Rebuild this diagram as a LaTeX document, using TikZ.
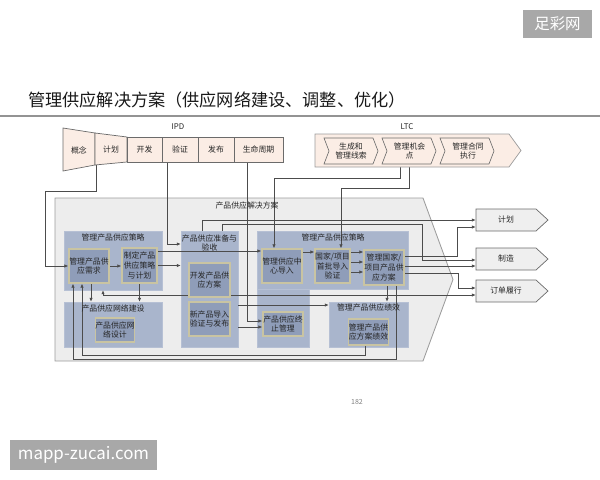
\documentclass[tikz,border=0pt]{standalone}
\usepackage{fontspec}
\setmainfont{Noto Sans CJK SC}
\usetikzlibrary{arrows.meta,calc,positioning}
\newlength\pxu
\setlength\pxu{0.025cm}
\definecolor{peach}{HTML}{FBEDE5}
\definecolor{bline}{HTML}{6B6B6B}
\definecolor{cbg}{HTML}{EDEDED}
\definecolor{cline}{HTML}{9C9C9C}
\definecolor{grp}{HTML}{A9B5CC}
\definecolor{inbox}{HTML}{8F9DB9}
\definecolor{inedge}{HTML}{C9C4A2}
\definecolor{wm}{HTML}{A8A8A8}
\definecolor{outfill}{HTML}{EFEFEF}
\pgfdeclarelayer{grplayer}
\pgfdeclarelayer{wire}
\pgfsetlayers{grplayer,wire,main}
\tikzset{
  txt/.style={font=\fontsize{5.6}{6.8}\selectfont, align=center, inner sep=0pt, text=black!85},
  ipd/.style={txt, draw=bline, fill=peach, line width=0.5pt, minimum height=25\pxu},
  grpbox/.style={fill=grp, draw=grp!85!white, inner sep=0pt},
  sub/.style={txt, fill=inbox, draw=inedge, line width=0.9pt},
  conn/.style={draw=black!70, line width=0.45pt, ->},
}
\begin{document}
\begin{tikzpicture}[x=0.025cm, y=-0.025cm, >={Latex[length=2.8pt,width=2.4pt]}]
\useasboundingbox (0,0) rectangle (600,480);
% 水印与标题
\fill[wm] (523,10) rectangle (592,38);
\node[font=\fontsize{11}{13}\selectfont, text=white, inner sep=0pt] (wmtop) at (557.5,24) {足彩网};
\fill[wm] (10,440) rectangle (157,470);
\node[font=\fontsize{12}{14}\selectfont, text=white, inner sep=0pt] (wmbot) at (83.5,455) {mapp-zucai.com};
\node[font=\fontsize{12.2}{14}\selectfont, anchor=west, inner sep=0pt, text=black!90] (title) at (28,100) {管理供应解决方案（供应网络建设、调整、优化）};
\draw[line width=1pt, gray!85] (0,116) -- (600,116);
\node[font=\fontsize{5}{6}\selectfont, text=gray] (pageno) at (357,402) {182};

% IPD
\node[txt] (ipdlabel) at (178,127) {IPD};
\filldraw[fill=peach, draw=bline, line width=0.5pt] (63,128) -- (95,133) -- (95,165) -- (63,171) -- cycle;
\filldraw[fill=peach, draw=bline, line width=0.5pt] (95,133) -- (127,137) -- (127,162) -- (95,165) -- cycle;
\node[txt] (gn) at (79,150) {概念};
\node[txt, minimum width=32\pxu, minimum height=29\pxu] (jh) at (111,149.5) {计划};
\node[ipd, minimum width=35\pxu] (kf) at (144.5,149.5) {开发};
\node[ipd, minimum width=36\pxu] (yz) at (180,149.5) {验证};
\node[ipd, minimum width=36\pxu] (fb) at (216,149.5) {发布};
\node[ipd, minimum width=49\pxu] (smzq) at (258.5,149.5) {生命周期};

% LTC
\node[txt] (ltclabel) at (407,127) {LTC};
\filldraw[fill=peach, draw=cline, line width=0.5pt] (315,134) -- (509,134) -- (521,150.5) -- (509,167) -- (315,167) -- cycle;
\foreach \l in {324,382,440}
  \draw[bline, line width=0.45pt] (\l,138) -- (\l+49,138) -- (\l+54,151) -- (\l+49,164) -- (\l,164) -- (\l+5,151) -- cycle;
\node[txt, minimum width=49\pxu, minimum height=26\pxu] (ltc1) at (351,151) {生成和\\管理线索};
\node[txt, minimum width=49\pxu, minimum height=26\pxu] (ltc2) at (409.5,151) {管理机会\\点};
\node[txt, minimum width=49\pxu, minimum height=26\pxu] (ltc3) at (468,151) {管理合同\\执行};

% 产品供应解决方案
\begin{pgfonlayer}{grplayer}
\filldraw[fill=cbg, draw=cline, line width=0.6pt] (55,198) -- (423,198) -- (453,279.5) -- (423,361) -- (55,361) -- cycle;
\node[grpbox, minimum width=98\pxu, minimum height=59\pxu] (g1) at (113,260.5) {};
\node[grpbox, minimum width=98\pxu, minimum height=45\pxu] (g2) at (113,324.5) {};
\node[grpbox, minimum width=57\pxu, minimum height=116\pxu] (g3) at (209.5,289) {};
\node[grpbox, minimum width=52\pxu, minimum height=59\pxu] (g4b) at (283,317.5) {};
\node[grpbox, minimum width=151\pxu, minimum height=58\pxu] (g4) at (332.5,260) {};
\node[grpbox, minimum width=79\pxu, minimum height=45\pxu] (g5) at (368.5,324.5) {};
\end{pgfonlayer}
\node[txt] (sol) at (247,206) {产品供应解决方案};
\node[txt] (g1t) at (113,238) {管理产品供应策略};
\node[txt] (g2t) at (113,308) {产品供应网络建设};
\node[txt] (g3t) at (209.5,243) {产品供应准备与\\验收};
\node[txt] (g4t) at (333,238) {管理产品供应策略};
\node[txt] (g5t) at (368.5,308) {管理产品供应绩效};

\node[sub, minimum width=40\pxu, minimum height=34\pxu] (xq) at (89,266) {管理产品供\\应需求};
\node[sub, minimum width=35\pxu, minimum height=35\pxu] (zd) at (139.5,265.5) {制定产品\\供应策略\\与计划};
\node[sub, minimum width=38\pxu, minimum height=24\pxu] (wlsj) at (115,330) {产品供应网\\络设计};
\node[sub, minimum width=41\pxu, minimum height=34\pxu] (kffa) at (209.5,280) {开发产品供\\应方案};
\node[sub, minimum width=41\pxu, minimum height=34\pxu] (xcp) at (209.5,319) {新产品导入\\验证与发布};
\node[sub, minimum width=40\pxu, minimum height=34\pxu] (zx) at (282,266) {管理供应中\\心导入};
\node[sub, minimum width=35\pxu, minimum height=34\pxu] (gj) at (332.5,266) {国家/项目\\首批导入\\验证};
\node[sub, minimum width=40\pxu, minimum height=35\pxu] (fa) at (384,267.5) {管理国家/\\项目产品供\\应方案};
\node[sub, minimum width=40\pxu, minimum height=24\pxu] (zz) at (283,324) {产品供应终\\止管理};
\node[sub, minimum width=39\pxu, minimum height=26\pxu] (jx) at (368.5,332) {管理产品供\\应方案绩效};

% 输出
\foreach \y in {220,259,291}
  \filldraw[fill=outfill, draw=bline, line width=0.5pt] (476,\y-11) -- (536,\y-11) -- (548,\y) -- (536,\y+11) -- (476,\y+11) -- cycle;
\node[txt, minimum width=60\pxu, minimum height=22\pxu] (out1) at (506,220) {计划};
\node[txt, minimum width=60\pxu, minimum height=22\pxu] (out2) at (506,259) {制造};
\node[txt, minimum width=60\pxu, minimum height=22\pxu] (out3) at (506,291) {订单履行};

% 连线
\begin{pgfonlayer}{wire}
\draw[conn] ($(jh.south)+(-15,0)$) -- ++(0,27) -| ($(xq.west)+(-23,0)$) -- (xq.west);
\draw[conn] ($(yz.south)+(-13,0)$) |- ($(g3.west)+(0,-45)$);
\draw[conn] ($(smzq.south)+(-11.5,0)$) |- ($(zz.west)+(0,-3)$);
\draw[conn] ($(ltc2.south)+(-9.5,0)$) -- ++(0,14) -| ($(zx.north)+(-8,0)$);
\draw[conn] (ltc2.south) -- ++(0,24) -| ($(gj.north)+(8.5,0)$);
\draw[conn] (xq.east) -- (xq.east -| zd.west);
\draw[conn] (zd.east) -- (zd.east -| g3.west);
\draw[conn] ($(zd.east)+(0,-14.5)$) -- ($(zx.west)+(0,-15)$);
\draw[conn] ($(zx.east)+(0,-14)$) -- ($(gj.west)+(0,-14)$);
\foreach \d in {-14,-4,6}
  \draw[conn] ($(gj.east)+(0,\d)$) -- ($(gj.east -| fa.west)+(0,\d)$);
\draw[conn] ($(fa.south)+(3,0)$) -- ($(fa.south |- g5.north)+(3,0)$);
\draw[conn] ($(fa.south)+(12,0)$) -- ++(0,74) -| ($(xq.south)+(-16,0)$);
\draw[conn] ($(jx.south)+(-3.5,0)$) -- ++(0,10) -| ($(xq.south)+(-7,0)$);
\draw[conn] ($(xq.south)+(2,0)$) -- ($(xq.south |- g2.north)+(2,0)$);
\draw[conn] (zd.south) -- (zd.south |- g2.north);
\draw[conn, <->] ($(g1.south)+(-10,0)$) |- ($(out3.west)+(0,4)$);
\draw[conn] ($(g3.north)+(-7.5,0)$) |- (out1.west);
\draw[conn] ($(g3.north)+(12.5,0)$) -- ++(0,-6) -| ($(out2.west)+(-53,1)$) -- ($(out2.west)+(0,1)$);
\draw[conn] ($(fa.east)+(0,-11.5)$) -| ($(out1.west)+(-18,7)$) -- ($(out1.west)+(0,7)$);
\draw[conn] ($(fa.east)+(0,-1.5)$) -- ($(out2.west)+(0,7)$);
\draw[conn] ($(fa.east)+(0,5.5)$) -| ($(out3.west)+(-17,-3)$) -- ($(out3.west)+(0,-3)$);
\draw[conn] ($(g3.east)+(0,16)$) -- ($(g5.west)+(0,-19.5)$);
\draw[conn] ($(xcp.east -| g3.east)+(0,8)$) -- ($(zz.west)+(0,3)$);
\end{pgfonlayer}
\end{tikzpicture}
\end{document}
